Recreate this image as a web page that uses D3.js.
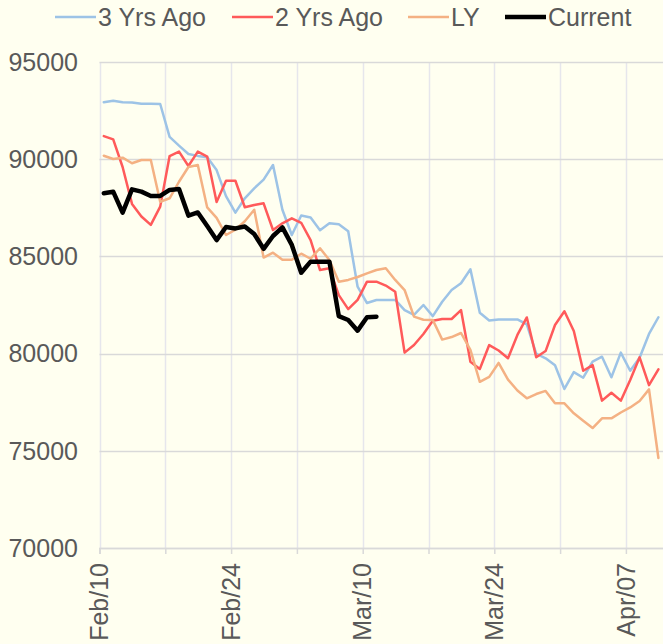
<!DOCTYPE html>
<html>
<head>
<meta charset="utf-8">
<script src="https://cdn.jsdelivr.net/npm/d3@7"></script>
<style>
  html, body { margin: 0; padding: 0; background: #FFFFF0; }
  svg { display: block; }
  text { font-family: "Liberation Sans", Arial, sans-serif; fill: #595959; }
</style>
</head>
<body>
<svg id="chart" width="663" height="644"></svg>
<script>
// ---- data ----
const startDate = new Date(2023, 1, 10); // Feb/10
const seriesNames = ["3 Yrs Ago", "2 Yrs Ago", "LY", "Current"];
const seriesColors = ["#9DC3E6", "#FF5A5A", "#F4B183", "#000000"];
const seriesWidths = [2.5, 2.5, 2.5, 4.5];

const threeYrsAgo = [92930, 93010, 92930, 92920, 92850, 92850, 92840, 91150, 90700, 90270,
  90170, 90100, 89440, 88100, 87250, 87990, 88500, 88950, 89700, 87400,
  86100, 87100, 87000, 86350, 86700, 86650, 86290, 83440, 82600, 82760,
  82760, 82760, 82240, 81990, 82500, 81930, 82670, 83270, 83620, 84340,
  82100, 81700, 81760, 81760, 81760, 81500, 80000, 79760, 79400, 78180,
  79050, 78760, 79590, 79840, 78780, 80050, 79120, 79790, 81010, 81870];

const twoYrsAgo = [91190, 91020, 89600, 87700, 87050, 86620, 87560, 90160, 90390, 89650,
  90390, 90130, 87800, 88890, 88890, 87530, 87640, 87730, 86360, 86700,
  86960, 86730, 85840, 84300, 84390, 83010, 82290, 82760, 83700, 83700,
  83500, 83180, 80050, 80440, 81010, 81690, 81780, 81780, 82240, 79580,
  79210, 80440, 80160, 79760, 80960, 81860, 79810, 80130, 81470, 82180,
  81160, 79120, 79410, 77580, 77990, 77580, 78640, 79810, 78380, 79190];

const lastYear = [90180, 90010, 90080, 89790, 89960, 89960, 87810, 87990, 88840, 89600,
  89700, 87520, 86980, 86100, 86370, 86810, 87400, 84940, 85190, 84830,
  84830, 85140, 84880, 85420, 84810, 83700, 83790, 83940, 84130, 84300,
  84390, 83790, 83270, 81900, 81740, 81730, 80720, 80850, 81060, 80190,
  78550, 78800, 79520, 78660, 78100, 77700, 77920, 78080, 77440, 77440,
  76930, 76550, 76170, 76670, 76670, 76970, 77230, 77560, 78160, 74630];

const current = [88250, 88330, 87250, 88450, 88330, 88110, 88110, 88420, 88470, 87100,
  87260, 86560, 85840, 86510, 86440, 86540, 86150, 85390, 86050, 86490,
  85590, 84160, 84730, 84730, 84730, 81930, 81730, 81180, 81870, 81900];

const yTicks = [70000, 75000, 80000, 85000, 90000, 95000];
const numDays = 60;

// ---- layout ----
const svg = d3.select("#chart");
const plotLeft = 99.5, plotRight = 663.5, plotTop = 62, plotBottom = 548;
const fontSize = "25px";
const legendX = [55, 232, 408, 505];

const x = d3.scaleTime()
  .domain([startDate, d3.timeDay.offset(startDate, numDays)])
  .range([plotLeft, plotRight]);
const y = d3.scaleLinear().domain([70000, 95000]).range([plotBottom, plotTop]);

const weekTicks = d3.timeDay.range(startDate, d3.timeDay.offset(startDate, numDays), 7);
const labelTicks = d3.timeDay.range(startDate, d3.timeDay.offset(startDate, numDays), 14);
const fmt = d3.timeFormat("%b/%d");

// vertical gridlines
svg.append("g").selectAll("line").data(weekTicks).join("line")
  .attr("x1", d => Math.round(x(d)) + 0.5).attr("x2", d => Math.round(x(d)) + 0.5)
  .attr("y1", plotTop).attr("y2", plotBottom)
  .attr("stroke", "#E6E6EC").attr("stroke-width", 1.5);

// horizontal gridlines
svg.append("g").selectAll("line").data(yTicks).join("line")
  .attr("x1", plotLeft).attr("x2", plotRight)
  .attr("y1", d => Math.round(y(d)) + 0.5).attr("y2", d => Math.round(y(d)) + 0.5)
  .attr("stroke", "#D9D9D9").attr("stroke-width", 1.5);

// x axis
const xAxis = d3.axisBottom(x).tickValues(weekTicks).tickSize(6).tickFormat("");
const gx = svg.append("g").attr("transform", `translate(0,${plotBottom})`).call(xAxis);
gx.select(".domain").attr("stroke", "#D9D9D9").attr("stroke-width", 1.5);
gx.selectAll(".tick line").attr("stroke", "#D9D9D9").attr("stroke-width", 1.5);

svg.append("g").selectAll("text").data(labelTicks).join("text")
  .attr("transform", d => `translate(${x(d)},${plotBottom + 15}) rotate(-90)`)
  .attr("text-anchor", "end")
  .attr("dy", "0.35em")
  .style("font-size", fontSize)
  .text(d => fmt(d));

// y axis labels
svg.append("g").selectAll("text").data(yTicks).join("text")
  .attr("x", 78).attr("y", d => y(d))
  .attr("text-anchor", "end").attr("dy", "0.35em")
  .style("font-size", fontSize)
  .text(d => d3.format("d")(d));

// lines
const allSeries = [threeYrsAgo, twoYrsAgo, lastYear, current];
const line = d3.line()
  .x((d, i) => x(d3.timeHour.offset(d3.timeDay.offset(startDate, i), 11)))
  .y(d => y(d));

allSeries.forEach((s, k) => {
  svg.append("path").datum(s)
    .attr("fill", "none")
    .attr("stroke", seriesColors[k])
    .attr("stroke-width", seriesWidths[k])
    .attr("stroke-linejoin", "round")
    .attr("stroke-linecap", "round")
    .attr("d", line);
});

// legend
const legend = svg.append("g");
seriesNames.forEach((name, k) => {
  const lx = legendX[k];
  legend.append("line")
    .attr("x1", lx).attr("x2", lx + 41)
    .attr("y1", 17).attr("y2", 17)
    .attr("stroke", seriesColors[k]).attr("stroke-width", seriesWidths[k]);
  legend.append("text")
    .attr("x", lx + 43).attr("y", 17).attr("dy", "0.35em")
    .style("font-size", fontSize)
    .text(name);
});
</script>
</body>
</html>
